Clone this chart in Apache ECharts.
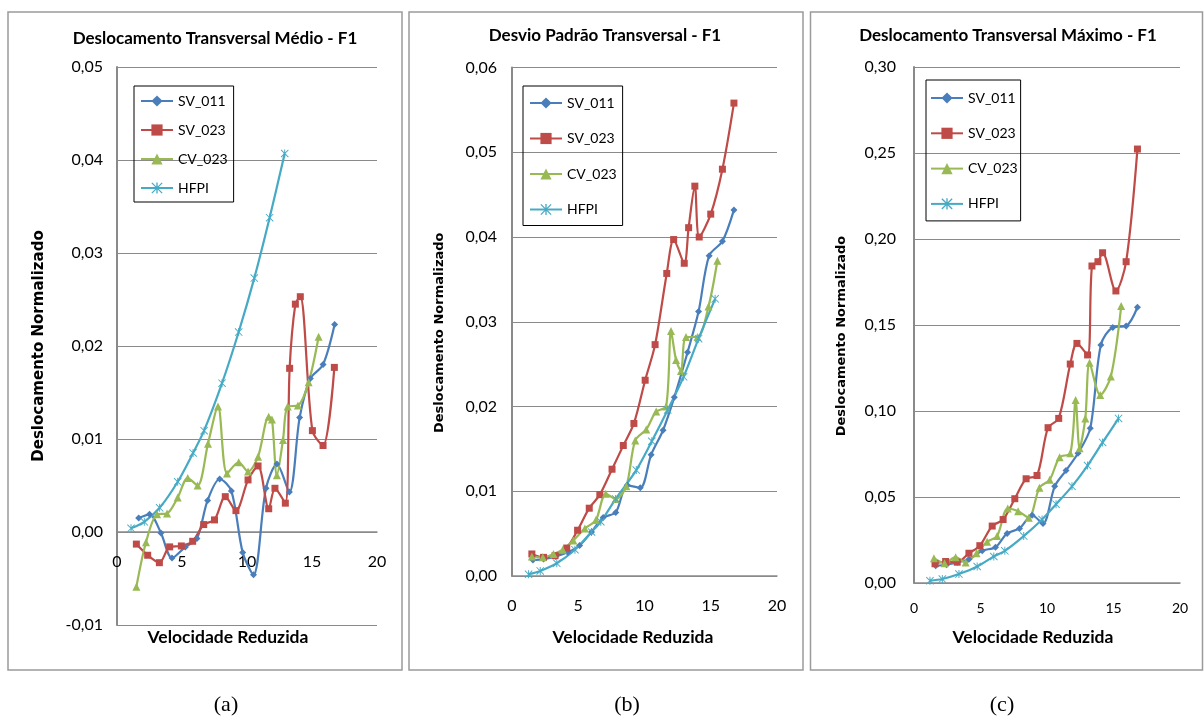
<!DOCTYPE html>
<html>
<head>
<meta charset="utf-8">
<script src="https://cdn.jsdelivr.net/npm/echarts@6/dist/echarts.min.js"></script>
<style>
  html, body { margin: 0; padding: 0; background: #fff; }
  #chart { width: 1204px; height: 718px; }
</style>
</head>
<body>
<div id="chart"></div>
<script>
// tick labels
const xTicks = [0, 5, 10, 15, 20]
const seriesNames = ['SV_011', 'SV_023', 'CV_023', 'HFPI']

// (a) Deslocamento Transversal Médio - F1
const aSV011 = [[1.67,0.0015],[2.5,0.0019],[3.38,-0.0001],[4.23,-0.0028],[5.26,-0.0016],[6.15,-0.0007],[6.97,0.0034],[7.9,0.0057],[8.8,0.0044],[9.67,-0.0022],[10.5,-0.0046],[11.46,0.0047],[12.3,0.0073],[13.26,0.0043],[14.05,0.0123],[14.87,0.0165],[15.85,0.018],[16.74,0.0223]]
const aSV023 = [[1.49,-0.0013],[2.36,-0.0025],[3.26,-0.0033],[4.05,-0.0016],[4.95,-0.0015],[5.82,-0.001],[6.67,0.0008],[7.5,0.0013],[8.33,0.0038],[9.15,0.0023],[10.08,0.0056],[10.85,0.0071],[11.67,0.0025],[12.15,0.0047],[12.95,0.0031],[13.28,0.0176],[13.72,0.0245],[14.1,0.0253],[15.03,0.0109],[15.85,0.0093],[16.72,0.0177]]
const aCV023 = [[1.49,-0.0059],[2.23,-0.0011],[3.08,0.0019],[3.85,0.002],[4.67,0.0037],[5.44,0.0058],[6.2,0.005],[7.0,0.0095],[7.77,0.0135],[8.46,0.0063],[9.36,0.0075],[10.08,0.0065],[10.85,0.0081],[11.67,0.0124],[11.92,0.0121],[12.3,0.0061],[12.77,0.0099],[13.13,0.0135],[13.92,0.0136],[14.74,0.0161],[15.51,0.021]]
const aHFPI = [[1.08,0.0004],[2.1,0.0011],[3.28,0.0026],[4.67,0.0054],[5.85,0.0085],[6.7,0.0109],[8.08,0.016],[9.36,0.0215],[10.56,0.0273],[11.74,0.0338],[12.9,0.0407]]

// (b) Desvio Padrão Transversal - F1
const bSV011 = [[1.58,0.0019],[2.38,0.002],[3.3,0.0023],[4.2,0.0028],[5.1,0.0036],[6.0,0.0052],[6.88,0.0069],[7.83,0.0075],[8.7,0.0107],[9.68,0.0104],[10.5,0.0143],[11.4,0.0172],[12.25,0.0211],[13.25,0.0264],[14.08,0.0312],[14.88,0.0378],[15.88,0.0395],[16.75,0.0432]]
const bSV023 = [[1.5,0.0026],[2.38,0.0022],[3.25,0.0024],[4.13,0.0033],[4.95,0.0054],[5.83,0.008],[6.63,0.0096],[7.55,0.0126],[8.4,0.0154],[9.2,0.018],[10.05,0.0231],[10.8,0.0273],[11.68,0.0357],[12.2,0.0397],[13.0,0.0369],[13.33,0.0411],[13.8,0.046],[14.13,0.04],[15.0,0.0427],[15.88,0.048],[16.75,0.0558]]
const bCV023 = [[1.5,0.0023],[2.33,0.0022],[3.13,0.0026],[3.83,0.0031],[4.63,0.0042],[5.5,0.0056],[6.33,0.0066],[7.08,0.0097],[7.83,0.0091],[8.63,0.0106],[9.3,0.016],[10.13,0.0173],[10.88,0.0194],[11.63,0.02],[12.0,0.0289],[12.38,0.0255],[12.75,0.0242],[13.13,0.0282],[14.0,0.0282],[14.83,0.0318],[15.5,0.0372]]
const bHFPI = [[1.25,0.0002],[2.13,0.0006],[3.38,0.0015],[4.75,0.0031],[6.0,0.0052],[6.7,0.0064],[7.83,0.0091],[9.38,0.0125],[10.55,0.0159],[11.75,0.0196],[12.95,0.0235],[14.08,0.028],[15.33,0.0327]]

// (c) Deslocamento Transversal Máximo - F1
const cSV011 = [[1.63,0.01],[2.45,0.0106],[3.25,0.012],[4.13,0.0138],[5.13,0.0188],[6.13,0.0208],[7.0,0.0288],[7.93,0.0317],[8.88,0.0394],[9.7,0.0346],[10.58,0.0562],[11.43,0.0654],[12.33,0.0754],[13.25,0.0899],[14.05,0.1384],[14.95,0.1486],[15.95,0.1494],[16.8,0.1603]]
const cSV023 = [[1.58,0.0112],[2.38,0.0125],[3.25,0.0121],[4.13,0.0173],[4.95,0.0217],[5.88,0.0331],[6.7,0.0369],[7.58,0.049],[8.43,0.0606],[9.25,0.0625],[10.08,0.0903],[10.88,0.0957],[11.75,0.1273],[12.25,0.1393],[13.05,0.1326],[13.38,0.1843],[13.83,0.1868],[14.18,0.192],[15.18,0.1698],[15.95,0.1868],[16.8,0.2523]]
const cCV023 = [[1.5,0.0144],[2.3,0.0115],[3.13,0.015],[3.88,0.0119],[4.7,0.0173],[5.5,0.024],[6.25,0.0273],[7.05,0.0433],[7.83,0.0417],[8.63,0.038],[9.43,0.0554],[10.2,0.06],[10.95,0.0731],[11.75,0.0754],[12.15,0.1064],[12.45,0.0783],[12.88,0.0957],[13.2,0.128],[14.0,0.1093],[14.8,0.12],[15.58,0.161]]
const cHFPI = [[1.2,0.0013],[2.13,0.0023],[3.38,0.0052],[4.75,0.0096],[6.0,0.0154],[6.83,0.0187],[8.25,0.0273],[9.63,0.0369],[10.68,0.0458],[11.88,0.0562],[13.05,0.0683],[14.18,0.0817],[15.38,0.0957]]

const FONT = 'Lato, "Open Sans", sans-serif'
const GRID_COLOR = '#8a8a8a'
const COLORS = ['#4A7EBB', '#BE4B48', '#98B954', '#46AAC5']
const SYMBOLS = [
  'diamond',
  'rect',
  'triangle',
  // asterisk
  'path://M4.4 0L5.6 0L5.6 10L4.4 10Z M0 0.8L0.8 0L10 9.2L9.2 10Z M9.2 0L10 0.8L0.8 10L0 9.2Z'
]
const SIZES = [7, 7, 8, 8]

const fmt = v => (Math.round(v * 100) / 100).toFixed(2).replace('.', ',')

const makeSeries = (idx, name, data) => {
  const k = seriesNames.indexOf(name)
  return {
    name,
    type: 'line',
    xAxisIndex: idx,
    yAxisIndex: idx,
    data,
    smooth: 0.3,
    symbol: SYMBOLS[k],
    symbolSize: SIZES[k],
    lineStyle: { color: COLORS[k], width: 2.2 },
    itemStyle: { color: COLORS[k] },
    emphasis: { disabled: true },
    animation: false
  }
}

// xOffset: panel (a) has its x axis crossing at y = 0 (one step above the bottom)
const panels = [
  { grid: { left: 117, top: 67, width: 260, height: 558 }, min: -0.01, max: 0.05, step: 0.01, nameSize: 15, nameGap: 70, namePad: [0, 0, 0, 0], xFont: 16, xMargin: 22, xOffset: -93, yMargin: 14, data: [aSV011, aSV023, aCV023, aHFPI] },
  { grid: { left: 512, top: 67.5, width: 265, height: 508.5 }, min: 0, max: 0.06, step: 0.01, nameSize: 13, nameGap: 66, namePad: [0, 22, 0, 0], xFont: 16, xMargin: 22, xOffset: 0, yMargin: 15, data: [bSV011, bSV023, bCV023, bHFPI] },
  { grid: { left: 914, top: 67, width: 266, height: 516 }, min: 0, max: 0.3, step: 0.05, nameSize: 13, nameGap: 66, namePad: [0, 22, 0, 0], xFont: 14, xMargin: 18, xOffset: 0, yMargin: 18, data: [cSV011, cSV023, cCV023, cHFPI] }
]

const legends = [
  { left: 134, top: 86, gap: 15, pad: [8, 6, 7, 6] },
  { left: 523, top: 86, gap: 21.5, pad: [10, 6, 9, 6] },
  { left: 926, top: 80, gap: 21.3, pad: [11, 3, 10, 4] }
]

const titles = [
  { text: 'Deslocamento Transversal Médio - F1', x: 215, y: 39 },
  { text: 'Desvio Padrão Transversal - F1', x: 605, y: 36 },
  { text: 'Deslocamento Transversal Máximo - F1', x: 1008, y: 36 }
]
const xTitles = [228, 633, 1033]
const captions = [{ t: '(a)', x: 226 }, { t: '(b)', x: 627 }, { t: '(c)', x: 1002 }]
const frames = [{ x: 8, w: 394 }, { x: 409, w: 394 }, { x: 810.5, w: 392 }]

const chart = echarts.init(document.getElementById('chart'), null, { renderer: 'canvas' })

const graphic = []
frames.forEach(f => graphic.push({
  type: 'rect', shape: { x: f.x, y: 12, width: f.w, height: 658 },
  style: { fill: 'none', stroke: '#9a9a9a', lineWidth: 1.5 }, silent: true
}))
titles.forEach(t => graphic.push({
  type: 'text', x: t.x, y: t.y,
  style: { text: t.text, font: 'bold 17px ' + FONT, fill: '#000', align: 'center', verticalAlign: 'middle' }
}))
xTitles.forEach(x => graphic.push({
  type: 'text', x, y: 637,
  style: { text: 'Velocidade Reduzida', font: 'bold 17.5px ' + FONT, fill: '#000', align: 'center', verticalAlign: 'middle' }
}))
captions.forEach(c => graphic.push({
  type: 'text', x: c.x, y: 705,
  style: { text: c.t, font: '22px "Liberation Serif", serif', fill: '#000', align: 'center', verticalAlign: 'middle' }
}))

const option = {
  backgroundColor: '#fff',
  animation: false,
  grid: panels.map(p => ({ ...p.grid, containLabel: false })),
  xAxis: panels.map((p, i) => ({
    type: 'value',
    gridIndex: i,
    min: xTicks[0],
    max: xTicks[xTicks.length - 1],
    interval: 5,
    offset: p.xOffset,
    axisLine: { show: true, onZero: false, lineStyle: { color: GRID_COLOR, width: 1.5 } },
    axisTick: { show: false },
    splitLine: { show: false },
    axisLabel: { color: '#000', fontFamily: FONT, fontSize: p.xFont, margin: p.xMargin }
  })),
  yAxis: panels.map((p, i) => ({
    type: 'value',
    gridIndex: i,
    min: p.min,
    max: p.max,
    interval: p.step,
    name: 'Deslocamento Normalizado',
    nameLocation: 'middle',
    nameRotate: 90,
    nameGap: p.nameGap,
    nameTextStyle: { fontFamily: '"DejaVu Sans", Verdana, sans-serif', fontWeight: 'bold', fontSize: p.nameSize, color: '#000', padding: p.namePad },
    axisLine: { show: true, lineStyle: { color: GRID_COLOR, width: 2 } },
    axisTick: { show: false },
    splitLine: { show: true, lineStyle: { color: GRID_COLOR, width: 1 } },
    axisLabel: { color: '#000', fontFamily: FONT, fontSize: 16, margin: p.yMargin, formatter: fmt }
  })),
  legend: legends.map(l => ({
    data: seriesNames,
    orient: 'vertical',
    left: l.left,
    top: l.top,
    itemWidth: 32,
    itemHeight: 14,
    itemGap: l.gap,
    padding: l.pad,
    borderColor: '#000',
    borderWidth: 1,
    selectedMode: false,
    textStyle: { fontFamily: FONT, fontSize: 14, color: '#000' }
  })),
  series: panels.flatMap((p, i) => seriesNames.map((n, k) => makeSeries(i, n, p.data[k]))),
  graphic
}

chart.setOption(option)
</script>
</body>
</html>
